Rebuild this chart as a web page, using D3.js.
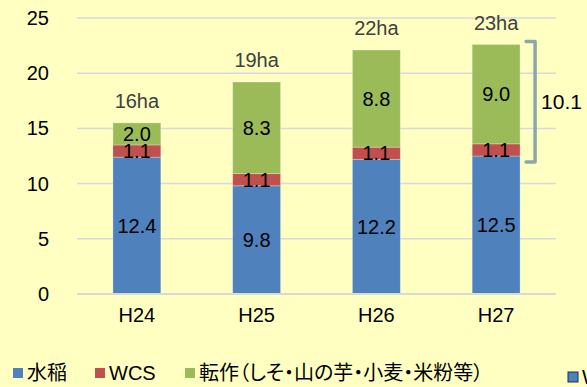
<!DOCTYPE html>
<html><head><meta charset="utf-8">
<script src="https://cdn.jsdelivr.net/npm/d3@7"></script>
<style>
html,body{margin:0;padding:0;background:#FFFFC2;overflow:hidden;}
svg{display:block;}
</style></head>
<body>
<script>
// Planted area by year (ha)
const years = ["H24", "H25", "H26", "H27"];
const rice = [12.4, 9.8, 12.2, 12.5];
const wcs = [1.1, 1.1, 1.1, 1.1];
const converted = [2.0, 8.3, 8.8, 9.0];
const totalLabels = ["16ha", "19ha", "22ha", "23ha"];
const yTicks = [0, 5, 10, 15, 20, 25];
const seriesNames = ["水稲", "WCS", "転作（しそ・山の芋・小麦・米粉等）"];
const seriesColors = ["#4F81BD", "#C0504D", "#9BBB59"];
const bracketLabel = "10.1";

const W = 587, H = 387;
const svg = d3.select("body").append("svg").attr("width", W).attr("height", H);
svg.append("rect").attr("width", W).attr("height", H).attr("fill", "#FFFFC2");

const plotLeft = 77, plotRight = 556, plotTop = 18, plotBottom = 294;
const x = d3.scaleBand().domain(years).range([plotLeft, plotRight]).paddingInner(0.6).paddingOuter(0.3);
const y = d3.scaleLinear().domain([0, 25]).range([plotBottom, plotTop]);
const font = "Liberation Sans, Arial, sans-serif";
const cjkFont = "Noto Sans CJK JP, Liberation Sans, sans-serif";

// gridlines
svg.append("g").selectAll("line").data(yTicks.filter(t => t > 0)).join("line")
  .attr("x1", plotLeft).attr("x2", plotRight)
  .attr("y1", d => y(d)).attr("y2", d => y(d))
  .attr("stroke", "#D8D8E0").attr("stroke-width", 1.5);

// y axis labels
const yAxis = svg.append("g").attr("transform", `translate(${plotLeft - 28},0)`)
  .call(d3.axisLeft(y).tickValues(yTicks).tickSize(0).tickPadding(0));
yAxis.select(".domain").remove();
yAxis.selectAll("text").attr("font-family", "Liberation Sans Narrow, Liberation Sans, sans-serif")
  .attr("font-size", 20).attr("fill", "#000");

// x axis labels
const xAxis = svg.append("g").attr("transform", `translate(0,${plotBottom + 14})`)
  .call(d3.axisBottom(x).tickSize(0).tickPadding(0));
xAxis.select(".domain").remove();
xAxis.selectAll("text").attr("font-family", font)
  .attr("font-size", 20).attr("fill", "#000");

// stacked bars
const rows = years.map((yr, i) => ({year: yr, rice: rice[i], wcs: wcs[i], conv: converted[i]}));
const stack = d3.stack().keys(["rice", "wcs", "conv"])(rows);
const layers = svg.append("g").selectAll("g").data(stack).join("g")
  .attr("fill", (d, i) => seriesColors[i]);
layers.selectAll("rect").data(d => d).join("rect")
  .attr("x", d => x(d.data.year))
  .attr("width", x.bandwidth())
  .attr("y", d => y(d[1]))
  .attr("height", d => y(d[0]) - y(d[1]))
  .attr("stroke", "rgba(255,255,255,0.35)").attr("stroke-width", 0.8);

// baseline
svg.append("line").attr("x1", plotLeft).attr("x2", plotRight)
  .attr("y1", plotBottom).attr("y2", plotBottom)
  .attr("stroke", "#D9D9D9").attr("stroke-width", 2);

// value labels in segments
const valueLabels = svg.append("g").attr("font-family", font)
  .attr("font-size", 20).attr("fill", "#000").attr("text-anchor", "middle");
stack.forEach(layer => {
  valueLabels.selectAll(null).data(layer).join("text")
    .attr("x", d => x(d.data.year) + x.bandwidth() / 2)
    .attr("y", d => (y(d[0]) + y(d[1])) / 2)
    .attr("dy", "0.36em")
    .text(d => (d[1] - d[0]).toFixed(1));
});

// totals above bars
svg.append("g").selectAll("text").data(rows).join("text")
  .attr("x", d => x(d.year) + x.bandwidth() / 2)
  .attr("y", d => y(d.rice + d.wcs + d.conv) - 22)
  .attr("dy", "0.36em")
  .attr("text-anchor", "middle")
  .attr("font-family", font)
  .attr("font-size", 20).attr("fill", "#404040")
  .text((d, i) => totalLabels[i]);

// bracket on the last bar for the non-rice part
const last = rows[rows.length - 1];
const bx = x(last.year) + x.bandwidth() + 15;
const bTop = y(last.rice + last.wcs + last.conv) - 3;
const bBot = y(last.rice) + 6;
svg.append("path")
  .attr("d", `M${bx - 9},${bTop} H${bx} V${bBot} H${bx - 9}`)
  .attr("fill", "none").attr("stroke", "#8AA8AC").attr("stroke-width", 3.5)
  .attr("stroke-linejoin", "round").attr("stroke-linecap", "round");
svg.append("text").attr("x", bx + 6).attr("y", (bTop + bBot) / 2)
  .attr("dy", "0.36em")
  .attr("font-family", font)
  .attr("font-size", 21).attr("fill", "#000").text(bracketLabel);

// legend
const legendX = [13, 95, 185];
const lg = svg.append("g").selectAll("g").data(seriesNames).join("g")
  .attr("transform", (d, i) => `translate(${legendX[i]},368)`);
lg.append("rect").attr("width", 10).attr("height", 10).attr("fill", (d, i) => seriesColors[i]);
lg.append("text").attr("x", 14).attr("y", 5).attr("dy", "0.36em")
  .attr("font-family", (d, i) => i === 1 ? font : cjkFont)
  .style("font-feature-settings", "'palt'")
  .attr("font-size", 20).attr("fill", "#000")
  .text(d => d);

// next legend entry, clipped at the edge
const extra = svg.append("g").attr("transform", "translate(568,372)");
extra.append("rect").attr("width", 10).attr("height", 10)
  .attr("fill", "#4F81BD").attr("stroke", "#1F2F4F").attr("stroke-width", 1);
extra.append("text").attr("x", 14).attr("y", 5).attr("dy", "0.36em")
  .attr("font-family", font).attr("font-size", 20).text("WCS");
</script>
</body></html>
